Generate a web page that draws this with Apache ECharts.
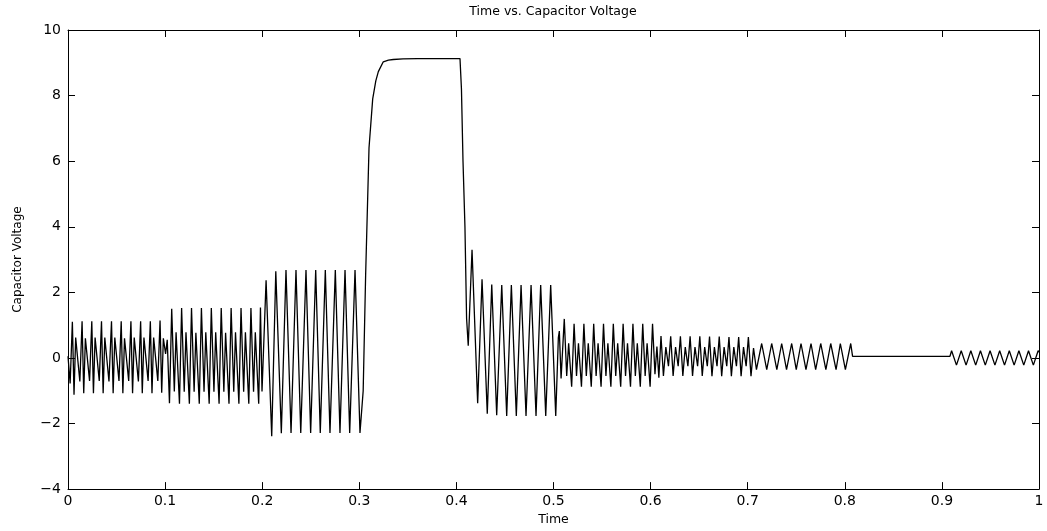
<!DOCTYPE html>
<html>
<head>
<meta charset="utf-8">
<title>Time vs. Capacitor Voltage</title>
<script src="https://cdn.jsdelivr.net/npm/echarts@6/dist/echarts.min.js"></script>
<style>
  html, body { margin: 0; padding: 0; background: #fff; }
  #chart { width: 1047px; height: 531px; }
</style>
</head>
<body>
<div id="chart"></div>
<script>
// [time, voltage] points, one list per 0.1 s stretch
const seg0 = [
  [0, 0.05], [0.0022, -0.78],
  [0.0045, 1.10], [0.0062, -1.12], [0.0079, 0.62], [0.0122, -0.72],
  [0.0145, 1.12], [0.0162, -1.08], [0.0179, 0.60], [0.0222, -0.70],
  [0.0245, 1.12], [0.0262, -1.08], [0.0279, 0.62], [0.0322, -0.70],
  [0.0345, 1.12], [0.0362, -1.08], [0.0379, 0.62], [0.0422, -0.72],
  [0.0448, 1.12], [0.0465, -1.08], [0.0482, 0.62], [0.0525, -0.70],
  [0.0548, 1.12], [0.0565, -1.08], [0.0582, 0.60], [0.0625, -0.70],
  [0.0648, 1.12], [0.0665, -1.08], [0.0682, 0.62], [0.0725, -0.72],
  [0.0748, 1.12], [0.0765, -1.08], [0.0782, 0.62], [0.0825, -0.70],
  [0.0848, 1.12], [0.0865, -1.08], [0.0882, 0.62], [0.0925, -0.70],
  [0.0948, 1.14], [0.0965, -1.06], [0.0982, 0.60], [0.1005, 0.12],
  [0.1022, 0.55], [0.1045, -1.38]
];
const seg1 = [
  [0.1068, 1.50], [0.1095, -1.02], [0.1113, 0.78], [0.1148, -1.40],
  [0.1170, 1.52], [0.1197, -1.03], [0.1215, 0.78], [0.1250, -1.40],
  [0.1272, 1.52], [0.1299, -1.03], [0.1317, 0.77], [0.1352, -1.40],
  [0.1374, 1.52], [0.1401, -1.03], [0.1419, 0.78], [0.1454, -1.40],
  [0.1476, 1.52], [0.1503, -1.03], [0.1521, 0.78], [0.1556, -1.40],
  [0.1578, 1.52], [0.1605, -1.03], [0.1623, 0.77], [0.1658, -1.40],
  [0.1680, 1.52], [0.1707, -1.03], [0.1725, 0.78], [0.1760, -1.40],
  [0.1782, 1.52], [0.1809, -1.03], [0.1827, 0.78], [0.1862, -1.40],
  [0.1884, 1.52], [0.1911, -1.03], [0.1929, 0.78], [0.1964, -1.40],
  [0.1982, 1.54], [0.1998, -1.02]
];
const seg2 = [
  [0.2040, 2.37], [0.2098, -2.39], [0.2140, 2.64], [0.2197, -2.30],
  [0.2245, 2.68], [0.2297, -2.29], [0.2348, 2.68], [0.2397, -2.29],
  [0.2451, 2.68], [0.2499, -2.29], [0.2551, 2.68], [0.2598, -2.29],
  [0.2650, 2.68], [0.2698, -2.29], [0.2753, 2.68], [0.2801, -2.29],
  [0.2853, 2.68], [0.2901, -2.29], [0.2956, 2.68], [0.3007, -2.29]
];
const seg3 = [
  [0.3040, -1.0], [0.3065, 2.5], [0.3100, 6.4], [0.3138, 7.9],
  [0.3170, 8.45], [0.3196, 8.73], [0.3247, 9.03], [0.3300, 9.08],
  [0.3350, 9.10], [0.3450, 9.12], [0.3600, 9.13], [0.4037, 9.13]
];
const seg4 = [
  [0.4052, 8.2], [0.4068, 6.0], [0.4088, 4.0], [0.4105, 1.2],
  [0.4122, 0.37], [0.4161, 3.30], [0.4219, -1.38], [0.4264, 2.40],
  [0.4318, -1.70], [0.4364, 2.24], [0.4415, -1.75], [0.4467, 2.22],
  [0.4518, -1.77], [0.4566, 2.22], [0.4617, -1.77], [0.4666, 2.22],
  [0.4717, -1.77], [0.4769, 2.22], [0.4820, -1.77], [0.4868, 2.22],
  [0.4920, -1.77], [0.4971, 2.22], [0.5023, -1.77]
];
const seg5 = [
  [0.5050, 0.62], [0.5060, 0.82], [0.5078, -0.63], [0.5111, 1.19],
  [0.5136, -0.55], [0.5156, 0.45], [0.5187, -0.88],
  [0.5212, 1.04], [0.5237, -0.55], [0.5257, 0.45], [0.5288, -0.88],
  [0.5313, 1.04], [0.5338, -0.55], [0.5358, 0.45], [0.5389, -0.88],
  [0.5414, 1.04], [0.5439, -0.55], [0.5459, 0.45], [0.5490, -0.88],
  [0.5515, 1.04], [0.5540, -0.55], [0.5560, 0.45], [0.5591, -0.88],
  [0.5616, 1.04], [0.5641, -0.55], [0.5661, 0.45], [0.5692, -0.88],
  [0.5717, 1.04], [0.5742, -0.55], [0.5762, 0.45], [0.5793, -0.88],
  [0.5818, 1.04], [0.5843, -0.55], [0.5863, 0.45], [0.5894, -0.88],
  [0.5919, 1.04], [0.5944, -0.55], [0.5964, 0.45], [0.5995, -0.88],
  [0.6020, 1.04], [0.6045, -0.50], [0.6065, 0.35], [0.6085, -0.60]
];
const seg6 = [
  [0.6107, 0.67], [0.6132, -0.55], [0.6157, 0.33], [0.6184, -0.25],
  [0.6207, 0.66], [0.6232, -0.55], [0.6257, 0.33], [0.6284, -0.25],
  [0.6307, 0.66], [0.6332, -0.55], [0.6357, 0.33], [0.6384, -0.25],
  [0.6407, 0.66], [0.6432, -0.55], [0.6457, 0.33], [0.6484, -0.25],
  [0.6507, 0.66], [0.6532, -0.55], [0.6557, 0.33], [0.6584, -0.25],
  [0.6607, 0.65], [0.6632, -0.56], [0.6657, 0.33], [0.6684, -0.25],
  [0.6707, 0.65], [0.6732, -0.56], [0.6757, 0.33], [0.6784, -0.25],
  [0.6807, 0.64], [0.6832, -0.56], [0.6857, 0.33], [0.6884, -0.25],
  [0.6907, 0.64], [0.6932, -0.56], [0.6957, 0.33], [0.6984, -0.25],
  [0.7007, 0.64], [0.7034, -0.56], [0.7060, 0.30]
];
const seg7 = [
  [0.7090, -0.36], [0.7144, 0.44], [0.7196, -0.36], [0.7247, 0.44],
  [0.7300, -0.36], [0.7350, 0.44], [0.7400, -0.36], [0.7453, 0.44],
  [0.7500, -0.36], [0.7549, 0.44], [0.7600, -0.36], [0.7652, 0.44],
  [0.7700, -0.36], [0.7752, 0.44], [0.7805, -0.36], [0.7855, 0.44],
  [0.7910, -0.36], [0.7954, 0.44], [0.8006, -0.36], [0.8061, 0.44]
];
const seg8 = [
  [0.8080, 0.05], [0.9083, 0.05],
  [0.9100, 0.22], [0.9150, -0.22], [0.9199, 0.22], [0.9249, -0.22],
  [0.9298, 0.22], [0.9348, -0.22], [0.9397, 0.22], [0.9447, -0.22],
  [0.9496, 0.22], [0.9546, -0.22], [0.9595, 0.22], [0.9645, -0.22],
  [0.9694, 0.22], [0.9744, -0.22], [0.9793, 0.22], [0.9843, -0.22],
  [0.9892, 0.22], [0.9942, -0.22], [0.9991, 0.22], [1.0, 0.18]
];

const xTickLabels = ["0", "0.1", "0.2", "0.3", "0.4", "0.5", "0.6", "0.7", "0.8", "0.9", "1"];
const yTickLabels = ["\u22124", "\u22122", "0", "2", "4", "6", "8", "10"];

const voltage = [].concat(seg0, seg1, seg2, seg3, seg4, seg5, seg6, seg7, seg8);

const font = "DejaVu Sans";
const chart = echarts.init(document.getElementById("chart"), null, { renderer: "canvas" });

function frameLine() {
  return { show: true, onZero: false, lineStyle: { color: "#000", width: 1 } };
}
function inTick() {
  return { show: true, inside: true, length: 7, lineStyle: { color: "#000", width: 1 } };
}

const option = {
  backgroundColor: "#fff",
  animation: false,
  title: {
    text: "Time vs. Capacitor Voltage",
    left: 548,
    top: 0,
    textAlign: "center",
    textStyle: { fontFamily: font, fontSize: 12.5, fontWeight: "normal", color: "#000" },
  },
  grid: { left: 68, right: 8, top: 30, bottom: 34, containLabel: false },
  xAxis: [
    {
      type: "value",
      position: "bottom",
      min: 0,
      max: 1,
      interval: 0.1,
      name: "Time",
      nameLocation: "middle",
      nameGap: 20,
      nameTextStyle: { fontFamily: font, fontSize: 12.5, color: "#000" },
      axisLine: frameLine(),
      axisTick: inTick(),
      splitLine: { show: false },
      axisLabel: {
        margin: 5,
        fontFamily: font,
        fontSize: 14,
        color: "#000",
        formatter: (v) => xTickLabels[Math.round(v * 10)],
      },
    },
    {
      type: "value",
      position: "top",
      min: 0,
      max: 1,
      interval: 0.1,
      axisLine: frameLine(),
      axisTick: inTick(),
      splitLine: { show: false },
      axisLabel: { show: false },
    },
  ],
  yAxis: [
    {
      type: "value",
      position: "left",
      min: -4,
      max: 10,
      interval: 2,
      name: "Capacitor Voltage",
      nameLocation: "middle",
      nameGap: 44,
      nameTextStyle: { fontFamily: font, fontSize: 12, color: "#000" },
      axisLine: frameLine(),
      axisTick: inTick(),
      splitLine: { show: false },
      axisLabel: {
        margin: 7,
        fontFamily: font,
        fontSize: 14,
        color: "#000",
        formatter: (v) => yTickLabels[Math.round((v + 4) / 2)],
      },
    },
    {
      type: "value",
      position: "right",
      min: -4,
      max: 10,
      interval: 2,
      axisLine: frameLine(),
      axisTick: inTick(),
      splitLine: { show: false },
      axisLabel: { show: false },
    },
  ],
  series: [
    {
      name: "Capacitor Voltage",
      type: "line",
      xAxisIndex: 0,
      yAxisIndex: 0,
      data: voltage,
      showSymbol: false,
      smooth: false,
      lineStyle: { color: "#000", width: 1.3 },
    },
  ],
};
chart.setOption(option);
</script>
</body>
</html>
